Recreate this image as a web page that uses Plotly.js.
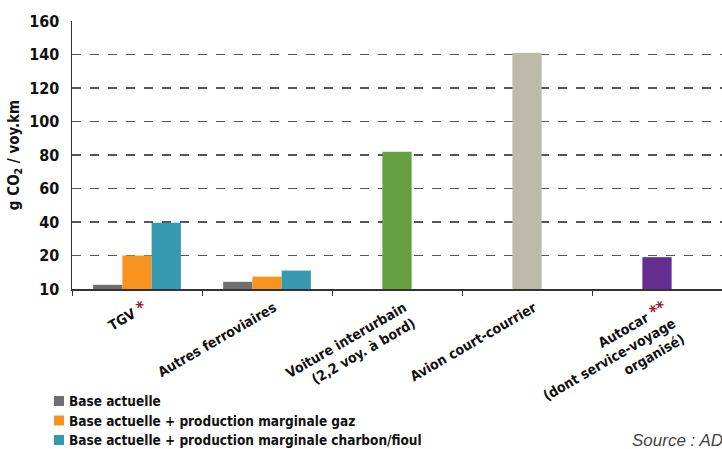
<!DOCTYPE html>
<html>
<head>
<meta charset="utf-8">
<script src="https://cdn.plot.ly/plotly-3.0.1.min.js"></script>
<style>html,body{margin:0;padding:0;background:#fff;}#chart{width:722px;height:449px;}</style>
</head>
<body>
<div id="chart"></div>
<script>
// Categories (tick labels)
const categories = ["TGV", "Autres ferroviaires", "Voiture interurbain", "Avion court-courrier", "Autocar"];
const categoryLabels = [
  "TGV <span style='color:#a3162e;font-size:17px'>*</span>",
  "Autres ferroviaires",
  "Voiture interurbain<br>(2,2 voy. à bord)",
  "Avion court-courrier",
  "Autocar <span style='color:#a3162e;font-size:17px'>**</span><br>(dont service-voyage<br>organisé)"
];
// Series values (g CO2 / voy.km)
const railCats = ["TGV", "Autres ferroviaires"];
const seriesNames = ["Base actuelle", "Base actuelle + production marginale gaz", "Base actuelle + production marginale charbon/fioul"];
const seriesColors = ["#6d6e70", "#f7941d", "#3799b0"];
const baseActuelle = [2.5, 4.3];
const margGaz = [20, 7.4];
const margCharbon = [39.5, 11];
const singleCats = ["Voiture interurbain", "Avion court-courrier", "Autocar"];
const singleValues = [82, 141, 19];
const singleColors = ["#64a03f", "#bdbaab", "#662d91"];
// Y ticks
const yTickVals = [0, 20, 40, 60, 80, 100, 120, 140, 160];
const yTickText = ["10", "20", "40", "60", "80", "100", "120", "140", "160"];

const font = "'DejaVu Sans Condensed', 'Liberation Sans Narrow', Arial, sans-serif";
const W = 0.225;
const railSeries = [baseActuelle, margGaz, margCharbon];
const offsets = [-0.3375, -0.1125, 0.1125];
const traces = railSeries.map((vals, i) => ({
  type: 'bar', x: railCats, y: vals, name: seriesNames[i],
  marker: {color: seriesColors[i]}, width: W, offset: offsets[i], showlegend: false
}));
traces.push({type: 'bar', x: singleCats, y: singleValues, showlegend: false, marker: {color: singleColors}, width: W, offset: -0.1125});

// Manual legend (swatch shapes + text annotations), positioned in pixels -> paper
const px = x => (x - 72) / 650;
const py = y => (289 - y) / 268;
const legendRows = [401, 420.5, 440];
const legendAnns = seriesNames.map((n, i) => ({
  xref: 'paper', yref: 'paper', x: px(67), y: py(legendRows[i]),
  xanchor: 'left', yanchor: 'middle', showarrow: false,
  text: n, font: {family: font, size: 13.5, color: '#111', weight: 'bold'}
}));
const legendShapes = seriesColors.map((c, i) => ({
  type: 'rect', xref: 'paper', yref: 'paper',
  x0: px(54), x1: px(64), y0: py(legendRows[i] - 5), y1: py(legendRows[i] + 5),
  fillcolor: c, line: {width: 0}
}));

const layout = {
  width: 722, height: 449,
  margin: {l: 72, r: 0, t: 21, b: 160},
  barmode: 'overlay',
  showlegend: false,
  paper_bgcolor: '#fff', plot_bgcolor: '#fff',
  font: {family: font, size: 14, color: '#111'},
  xaxis: {
    categoryorder: 'array', categoryarray: categories,
    tickmode: 'array', tickvals: categories, ticktext: categoryLabels,
    tickangle: -30, tickson: 'boundaries', ticks: 'outside', ticklen: 5, tickcolor: '#333',
    ticklabelshift: 7, ticklabelstandoff: 4,
    tickfont: {family: font, size: 14, color: '#111', weight: 'bold'},
    showline: true, linecolor: '#333', linewidth: 1.5, showgrid: false,
    range: [-0.5, 4.5], fixedrange: true, automargin: false
  },
  yaxis: {
    range: [0, 160], tickmode: 'array', tickvals: yTickVals, ticktext: yTickText,
    showgrid: true, gridcolor: '#555', griddash: 'dash', gridwidth: 1.2,
    showline: true, linecolor: '#333', linewidth: 1.5, zeroline: false,
    ticks: '', ticklabelstandoff: 8, automargin: false,
    tickfont: {family: font, size: 16, color: '#111', weight: 'bold'},
    title: {text: 'g CO<sub>2</sub> / voy.km', font: {family: font, size: 15, color: '#111', weight: 'bold'}, standoff: 6}
  },
  shapes: legendShapes,
  annotations: legendAnns.concat([{
    xref: 'paper', yref: 'paper', x: px(630), y: py(441),
    xanchor: 'left', yanchor: 'middle', showarrow: false,
    text: '<i>Source : ADEME</i>', font: {family: "'Liberation Sans', Arial, sans-serif", size: 17, color: '#444'}
  }])
};

Plotly.newPlot('chart', traces, layout, {displayModeBar: false, staticPlot: true});
</script>
</body>
</html>
